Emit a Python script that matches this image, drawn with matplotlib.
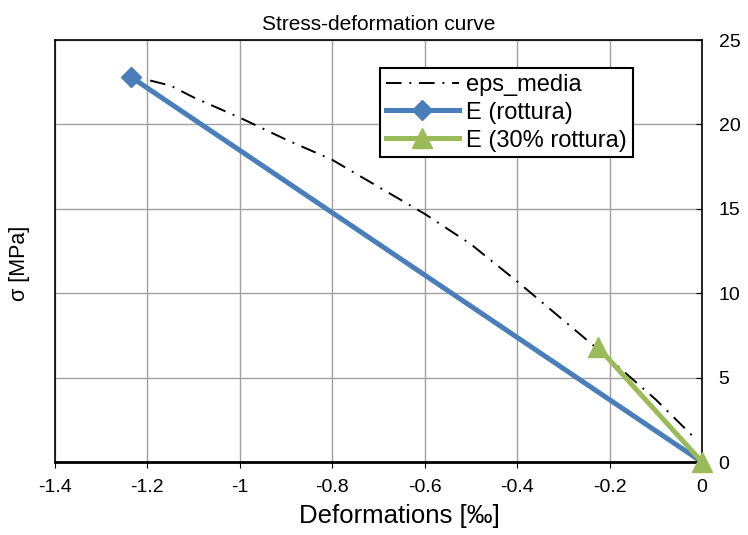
# stress-deformation curve with two secant moduli
import matplotlib
matplotlib.use('Agg')
import matplotlib.pyplot as plt

plt.rcParams['font.family'] = ['Liberation Sans', 'DejaVu Sans']

# measured mean strain curve
eps_media_x = [-1.194, -1.15, -1.1, -1.0, -0.9, -0.8, -0.7, -0.6, -0.5,
               -0.4, -0.3, -0.2, -0.1, -0.015]
eps_media_y = [22.6, 22.3, 21.6, 20.4, 19.1, 17.9, 16.3, 14.7, 12.9,
               10.7, 8.4, 6.1, 3.7, 1.4]

# secant lines
e_rott_x = [-1.235, 0.0]
e_rott_y = [22.8, 0.0]
e_30_x = [-0.225, 0.0]
e_30_y = [6.8, 0.0]

x_ticks = [-1.4, -1.2, -1.0, -0.8, -0.6, -0.4, -0.2, 0.0]
x_labels = ['-1.4', '-1.2', '-1', '-0.8', '-0.6', '-0.4', '-0.2', '0']
y_ticks = [0, 5, 10, 15, 20, 25]

fig = plt.figure(figsize=(7.48, 5.35), dpi=100)
ax = fig.add_axes([0.0735, 0.1364, 0.865, 0.7888])

ax.plot(eps_media_x, eps_media_y, color='black', lw=1.4,
        linestyle=(0, (8, 4, 1, 4)), label='eps_media')
ax.plot(e_rott_x, e_rott_y, color='#4a7ebb', lw=3.6, marker='D',
        markersize=10, markevery=[0], label='E (rottura)', clip_on=False)
ax.plot(e_30_x, e_30_y, color='#9bbb59', lw=3.6, marker='^',
        markersize=15, label='E (30% rottura)', clip_on=False, zorder=3)

ax.set_xlim(-1.4, 0)
ax.set_ylim(0, 25)
ax.set_xticks(x_ticks)
ax.set_xticklabels(x_labels)
ax.set_yticks(y_ticks)
ax.yaxis.tick_right()
ax.tick_params(axis='y', direction='in', length=4.5, labelsize=14, pad=12)
ax.tick_params(axis='x', direction='out', length=4.5, labelsize=14, pad=8)
ax.grid(True, color='#a0a0a0', lw=1)
ax.set_axisbelow(True)
for s in ax.spines.values():
    s.set_color('black')
    s.set_linewidth(1.2)
ax.spines['bottom'].set_linewidth(2)

ax.set_xlabel('Deformations [‰]', fontsize=18.5)
ax.xaxis.set_label_coords(0.533, -0.1)
ax.set_ylabel('σ [MPa]', fontsize=15.5, va='center')
ax.yaxis.set_label_position('left')
ax.yaxis.set_label_coords(-0.039, 0.47)
ax.set_title('Stress-deformation curve', fontsize=15, pad=7)

leg = ax.legend(loc='upper left', bbox_to_anchor=(0.502, 0.934), fontsize=17,
                frameon=True, fancybox=False, handlelength=3.1,
                borderpad=0.25, labelspacing=0.25, handletextpad=0.3,
                borderaxespad=0)
leg.get_frame().set_edgecolor('black')
leg.get_frame().set_linewidth(1.5)
leg.get_frame().set_alpha(1)

fig.savefig('out.png', dpi=100)
